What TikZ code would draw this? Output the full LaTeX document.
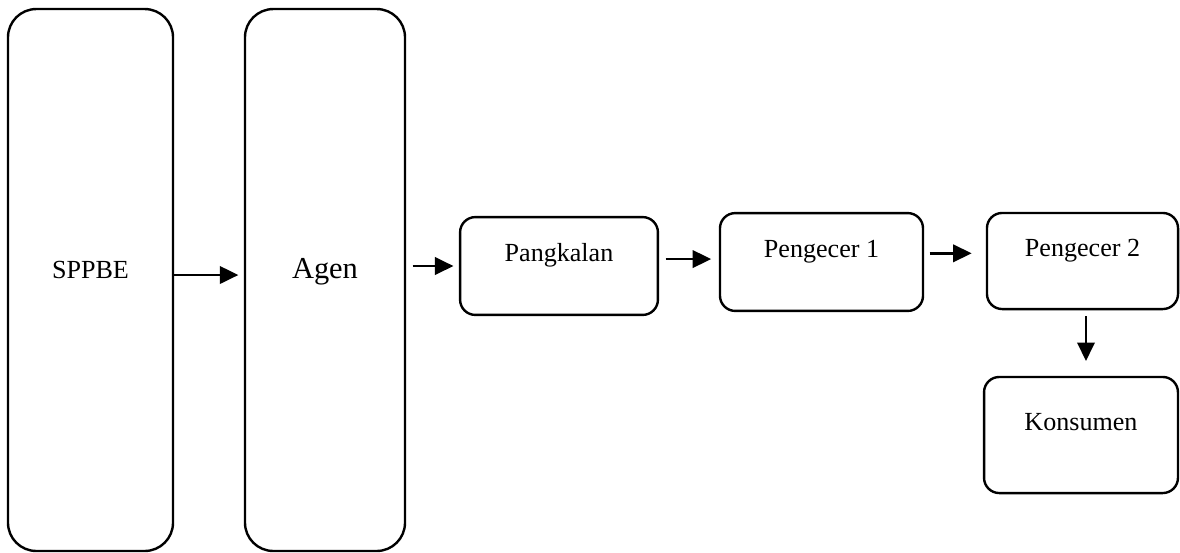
\documentclass[tikz,border=0pt]{standalone}
\usepackage{fontspec}
\setmainfont{Liberation Serif}
\usetikzlibrary{arrows.meta}

\begin{document}
\begin{tikzpicture}[x=0.46pt, y=-0.46pt,
  every node/.style = {shape=rectangle, draw, line width=1.1pt,
    align=center, font=\fontsize{12}{14}\selectfont},
  tallbox/.style = {rounded corners=13pt, minimum width=75.9pt,
    minimum height=249.3pt, text height=8pt, text depth=9.4pt},
  smallbox/.style = {rounded corners=7pt, minimum width=91pt,
    minimum height=45pt, text height=8pt, text depth=12pt},
  flow/.style = {line width=1.1pt, -{Triangle[length=8.5pt,width=8pt]}}]
  \useasboundingbox (0,0) rectangle (1180,552);

  \node[tallbox] (sppbe) at (90.5,280) {SPPBE};
  \node[tallbox, minimum width=73.6pt,
    font=\fontsize{14}{16}\selectfont] (agen) at (325,280) {Agen};
  \node[smallbox] (pangkalan) at (559,266) {Pangkalan};
  \node[smallbox, minimum width=93.4pt] (pengecer1) at (821.5,262) {Pengecer 1};
  \node[smallbox, minimum width=87.9pt, minimum height=44.2pt]
    (pengecer2) at (1082.5,261) {Pengecer 2};
  \node[smallbox, minimum width=89.2pt, minimum height=53.4pt]
    (konsumen) at (1081,435) {Konsumen};

  \draw[flow, shorten >=2.5pt] ([yshift=2.3pt]sppbe.east)
    -- ([yshift=2.3pt]sppbe.east -| agen.west);
  \draw[flow, shorten <=3pt, shorten >=2.5pt] (agen.east |- pangkalan.west)
    -- (pangkalan.west);
  \draw[flow, shorten <=3pt, shorten >=3.5pt] ([yshift=3.2pt]pangkalan.east)
    -- ([yshift=3.2pt]pangkalan.east -| pengecer1.west);
  \draw[flow, shorten <=2.5pt, shorten >=6.5pt] ([yshift=4pt]pengecer1.east)
    -- ([yshift=4pt]pengecer1.east -| pengecer2.west);
  \draw[flow, shorten <=2.8pt, shorten >=6.8pt] ([xshift=1.6pt]pengecer2.south)
    -- ([xshift=1.6pt]pengecer2.south |- konsumen.north);
\end{tikzpicture}
\end{document}
